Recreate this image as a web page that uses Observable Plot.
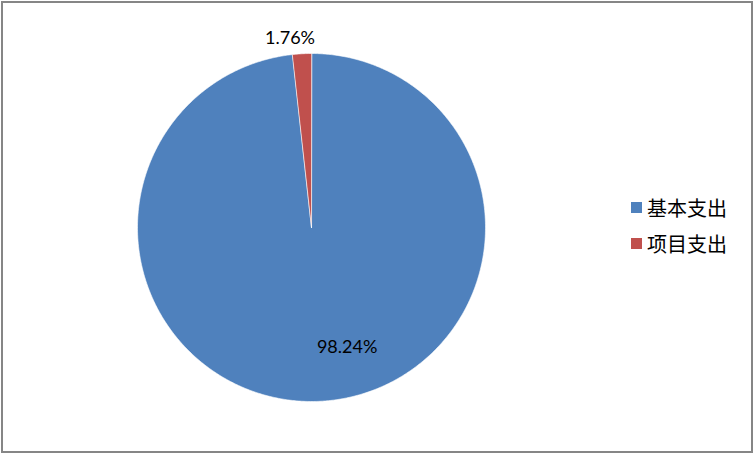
<!DOCTYPE html>
<html>
<head>
<meta charset="utf-8">
<script src="https://cdn.jsdelivr.net/npm/d3@7"></script>
<script src="https://cdn.jsdelivr.net/npm/@observablehq/plot@0.6"></script>
<style>
  html, body { margin: 0; padding: 0; background: #fff; }
  #wrap { position: relative; width: 754px; height: 454px; overflow: hidden; }
  #border { position: absolute; left: 1px; top: 1px; width: 748px; height: 448px; border: 2px solid #868686; pointer-events: none; }
  #legend { position: absolute; left: 631px; top: 189px; font-family: "Noto Sans CJK SC", sans-serif; font-size: 20px; color: #000; }
  .item { display: flex; align-items: center; height: 36px; }
  .sw { width: 11px; height: 11px; margin-right: 5px; }
</style>
</head>
<body>
<div id="wrap"><div id="chart"></div><div id="legend"></div><div id="border"></div></div>
<script>
const categories = ["基本支出", "项目支出"];
const shares = [98.24, 1.76];
const labels = ["98.24%", "1.76%"];
const colors = ["#4F81BD", "#C0504D"];

const pie = d3.pie().sort(null).value(d => d)(shares);
const TAU = 2 * Math.PI;

// polygon vertices of each slice (angles measured clockwise from 12 o'clock)
const pts = [];
pie.forEach((a, i) => {
  const n = Math.max(4, Math.ceil((a.endAngle - a.startAngle) / TAU * 720));
  pts.push({cat: categories[i], x: 0, y: 0});
  for (let k = 0; k <= n; k++) {
    const t = a.startAngle + (a.endAngle - a.startAngle) * k / n;
    pts.push({cat: categories[i], x: Math.sin(t), y: Math.cos(t)});
  }
});

const labelData = pie.map((a, i) => {
  const mid = (a.startAngle + a.endAngle) / 2;
  const big = shares[i] > 50;
  const r = big ? 0.69 : 1.09;
  return {label: labels[i], x: r * Math.sin(mid), y: r * Math.cos(mid), dx: big ? 29 : -11};
});

const plot = Plot.plot({
  width: 754,
  height: 454,
  margin: 0,
  x: {domain: [-1, 1], range: [137, 485], axis: null},
  y: {domain: [-1, 1], range: [401, 53], axis: null},
  color: {domain: categories, range: colors},
  style: {background: "transparent"},
  marks: [
    Plot.line(pts, {x: "x", y: "y", z: "cat", fill: "cat", stroke: "white", strokeWidth: 0.6, curve: "linear-closed"}),
    Plot.text(labelData, {x: "x", y: "y", text: "label", fontSize: 18, fill: "#000",
      fontFamily: "Lato, 'Open Sans', sans-serif"})
  ]
});
document.getElementById("chart").appendChild(plot);

// horizontal nudges for labels
d3.select(plot).selectAll("g[aria-label='text'] text").each(function(_, i) {
  const el = d3.select(this);
  const dx = labelData[i].dx;
  if (el.attr("x") != null) el.attr("x", (+el.attr("x")) + dx);
  else el.attr("transform", (el.attr("transform") || "") + ` translate(${dx},0)`);
});

const legend = d3.select("#legend");
categories.forEach((c, i) => {
  const it = legend.append("div").attr("class", "item");
  it.append("div").attr("class", "sw").style("background", colors[i]);
  it.append("span").text(c);
});
</script>
</body>
</html>
